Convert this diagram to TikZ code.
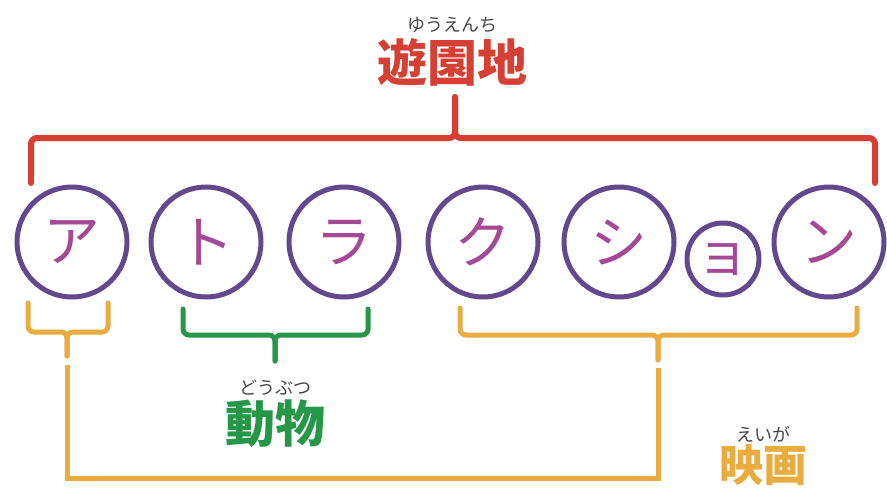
\documentclass[tikz,border=0pt]{standalone}
\usepackage{fontspec}
\newfontfamily\cjk{Noto Sans CJK JP}
\definecolor{cred}{RGB}{214,64,52}
\definecolor{cpurple}{RGB}{98,72,140}
\definecolor{cmag}{RGB}{165,72,150}
\definecolor{corange}{RGB}{232,172,64}
\definecolor{cgreen}{RGB}{38,150,72}
\definecolor{cgray}{RGB}{70,70,70}
\tikzset{
  kana/.style={circle,draw=cpurple,line width=5pt,minimum size=110pt,inner sep=0pt,
    text=cmag,font=\cjk\fontsize{57}{64}\selectfont},
  smallkana/.style={kana,minimum size=72pt,font=\cjk\fontsize{53}{60}\selectfont},
  bigword/.style={inner sep=0pt,font=\cjk\bfseries\fontsize{50}{60}\selectfont},
  ruby/.style={inner sep=0pt,text=cgray,font=\cjk\fontsize{18}{20}\selectfont},
  brk/.style={line width=5pt,rounded corners=6pt,line cap=round},
}
\begin{document}
\begin{tikzpicture}[x=1pt,y=-1pt]
\useasboundingbox (0,0) rectangle (887,488);
% letters
\node[kana] (a) at (72,242) {ア};
\node[kana] (t) at (206,242) {ト};
\node[kana] (r) at (344,242) {ラ};
\node[kana] (k) at (483,242) {ク};
\node[kana] (s) at (619,242) {シ};
\node[smallkana] (yo) at (723,259) {ョ};
\node[kana] (n) at (829,242) {ン};
% labels
\node[bigword,text=cred] (yuen) at (452,62) {遊園地};
\node[ruby] (yuenr) at (452,25) {ゆうえんち};
\node[bigword,text=cgreen] (dob) at (275,424) {動物};
\node[ruby] (dobr) at (275,388) {どうぶつ};
\node[bigword,text=corange,font=\cjk\bfseries\fontsize{44}{50}\selectfont] (eiga) at (763,465) {映画};
\node[ruby] (eigar) at (763,434) {えいが};
% red bracket
\coordinate (rl) at (31,183);
\coordinate (rr) at (875,183);
\coordinate (rm) at (455,138);
\coordinate (rt) at (455,97);
\draw[brk,draw=cred,line width=6pt] (rl) |- (rm) -- (rt);
\draw[brk,draw=cred,line width=6pt] (rr) |- (rm) -- (rt);
% orange bracket under a
\coordinate (o1l) at (28,303);
\coordinate (o1r) at (108,303);
\coordinate (o1m) at (67,332);
\coordinate (o1s) at (67,356);
\draw[brk,draw=corange] (o1l) |- (o1m) -- (o1s);
\draw[brk,draw=corange] (o1r) |- (o1m) -- (o1s);
% green bracket under t r
\coordinate (gl) at (183,309);
\coordinate (gr) at (368,309);
\coordinate (gm) at (275,335);
\coordinate (gs) at (275,361);
\draw[brk,draw=cgreen] (gl) |- (gm) -- (gs);
\draw[brk,draw=cgreen] (gr) |- (gm) -- (gs);
% orange bracket under k..n
\coordinate (o2l) at (460,308);
\coordinate (o2r) at (857,308);
\coordinate (o2m) at (658,335);
\coordinate (o2s) at (658,360);
\draw[brk,draw=corange] (o2l) |- (o2m) -- (o2s);
\draw[brk,draw=corange] (o2r) |- (o2m) -- (o2s);
% long orange connector
\coordinate (lc1) at (67,365);
\coordinate (lc2) at (658,368);
\draw[line width=5pt,draw=corange] (lc1) |- (658,478) -- (lc2);
\end{tikzpicture}
\end{document}
